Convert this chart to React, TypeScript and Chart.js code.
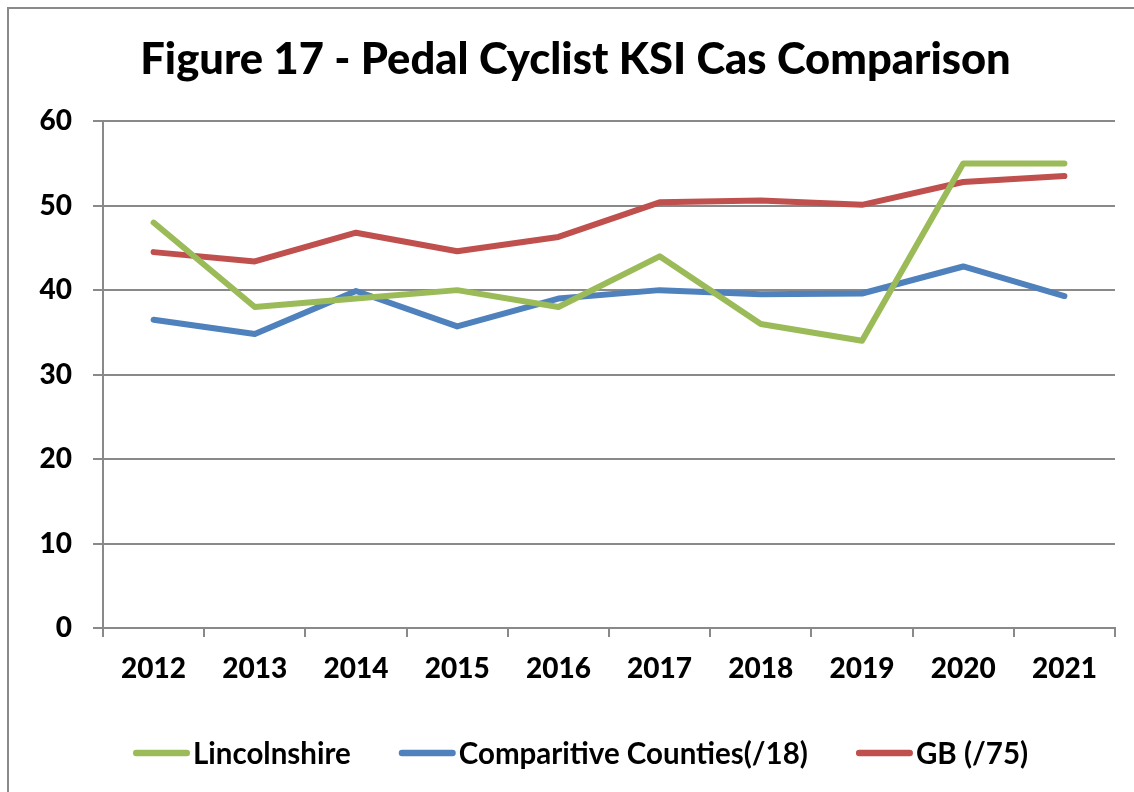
import React, { useEffect, useRef } from "react";
import { Chart, registerables } from "chart.js";

Chart.register(...registerables);

const years = ["2012", "2013", "2014", "2015", "2016", "2017", "2018", "2019", "2020", "2021"];
const lincolnshire = [48, 38, 39, 40, 38, 44, 36, 34, 55, 55];
const comparitiveCounties = [36.5, 34.8, 39.9, 35.7, 39.0, 40.0, 39.5, 39.6, 42.8, 39.3];
const gb = [44.5, 43.4, 46.8, 44.6, 46.3, 50.4, 50.6, 50.1, 52.8, 53.5];
const seriesNames = ["Lincolnshire", "Comparitive Counties(/18)", "GB (/75)"];
const seriesColors = ["#9BBB59", "#4F81BD", "#C0504D"];
const yTicks = [0, 10, 20, 30, 40, 50, 60];

const GRID = "#898989";
const FONT = "Lato, 'Open Sans', sans-serif";

// Legend drawn through the Chart.js plugin API, laid out like the original (line swatch right next to the text)
const lineLegend = {
  id: "lineLegend",
  afterDraw(chart: any, _args: any, opts: any) {
    const ctx = chart.ctx as CanvasRenderingContext2D;
    ctx.save();
    let x = opts.x;
    const y = opts.y;
    ctx.font = opts.font;
    ctx.textBaseline = "middle";
    ctx.textAlign = "left";
    chart.data.datasets.forEach((ds: any) => {
      ctx.strokeStyle = ds.borderColor;
      ctx.lineWidth = opts.lineWidth;
      ctx.lineCap = "round";
      ctx.beginPath();
      ctx.moveTo(x + opts.lineWidth / 2, y);
      ctx.lineTo(x + opts.swatch - opts.lineWidth / 2, y);
      ctx.stroke();
      x += opts.swatch + opts.textGap;
      const w = ctx.measureText(ds.label).width;
      ctx.fillStyle = "#000";
      ctx.fillText(ds.label, x, y + 1);
      x += w + opts.itemGap;
    });
    ctx.restore();
  },
};

export default function App() {
  const ref = useRef<HTMLCanvasElement | null>(null);

  useEffect(() => {
    if (!ref.current) return;
    const values = [lincolnshire, comparitiveCounties, gb];
    const chart = new Chart(ref.current, {
      type: "line",
      data: {
        labels: years,
        datasets: seriesNames.map((name, i) => ({
          label: name,
          data: values[i],
          borderColor: seriesColors[i],
          backgroundColor: seriesColors[i],
          borderWidth: 6,
          pointRadius: 0,
          pointHoverRadius: 0,
          tension: 0,
          borderCapStyle: "round" as const,
          borderJoinStyle: "round" as const,
        })),
      },
      plugins: [lineLegend],
      options: {
        responsive: false,
        animation: false,
        devicePixelRatio: 1,
        layout: { padding: { left: 36, right: 19, top: 0, bottom: 64 } },
        plugins: {
          tooltip: { enabled: false },
          legend: { display: false },
          title: {
            display: true,
            text: "Figure 17 - Pedal Cyclist KSI Cas Comparison",
            color: "#000",
            font: { family: FONT, size: 43.5, weight: "900" },
            padding: { top: 34, bottom: 35 },
          },
          lineLegend: {
            x: 133,
            y: 753,
            swatch: 57,
            textGap: 3,
            itemGap: 48,
            lineWidth: 6.5,
            font: "bold 29.5px Lato, 'Open Sans', sans-serif",
          },
        } as any,
        scales: {
          x: {
            offset: true,
            grid: {
              offset: true,
              drawOnChartArea: false,
              drawTicks: true,
              tickLength: 9,
              color: GRID,
              lineWidth: 2,
            },
            border: { color: GRID, width: 2 },
            ticks: {
              color: "#000",
              padding: 15,
              maxRotation: 0,
              font: { family: FONT, size: 28, weight: "900" },
            },
            afterFit: (scale: any) => {
              scale.height = 100;
            },
          },
          y: {
            min: 0,
            max: 60,
            afterBuildTicks: (scale: any) => {
              scale.ticks = yTicks.map((v) => ({ value: v }));
            },
            grid: {
              color: GRID,
              lineWidth: 2,
              drawTicks: true,
              tickLength: 10,
            },
            border: { color: GRID, width: 2 },
            ticks: {
              color: "#000",
              padding: 21,
              font: { family: FONT, size: 28, weight: "900" },
            },
            afterFit: (scale: any) => {
              scale.width = 67;
            },
          },
        },
      },
    });
    return () => chart.destroy();
  }, []);

  return (
    <div style={{ position: "fixed", left: 0, top: 0, width: 1134, height: 792, background: "#fff", overflow: "hidden" }}>
      <div
        style={{
          position: "absolute",
          left: 7,
          top: 7,
          width: 1200,
          height: 900,
          borderLeft: "2px solid #8a8a8a",
          borderTop: "2px solid #8a8a8a",
        }}
      />
      <canvas ref={ref} width={1134} height={792} style={{ position: "absolute", left: 0, top: 0, display: "block" }} />
    </div>
  );
}
